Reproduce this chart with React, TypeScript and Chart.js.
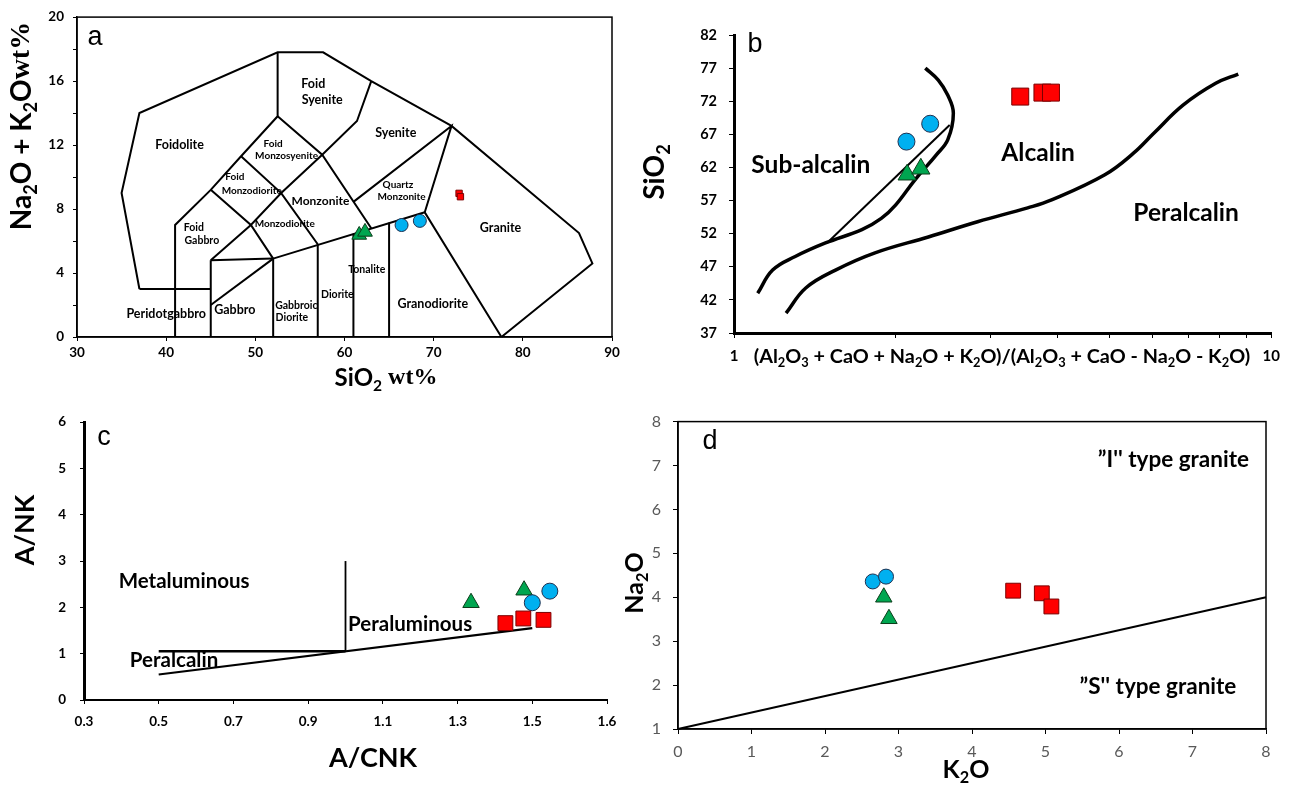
import React, { useEffect, useRef } from 'react';
import { Chart, registerables } from 'chart.js';
Chart.register(...registerables);

const FONT = 'Lato, "Open Sans", sans-serif';
const SERIF = '"Liberation Serif", "DejaVu Serif", serif';

// ---------- Panel a : TAS (plutonic) ----------
const tasXTicks = [30, 40, 50, 60, 70, 80, 90];
const tasYTicks = [0, 2, 4, 6, 8, 10, 12, 14, 16, 18, 20];
const tasOutline = [[37, 3], [35, 9], [37, 14], [52.5, 17.8], [57.6, 17.8], [63, 16], [72, 13.2], [86.3, 6.5], [87.8, 4.6], [77.6, 0]];
const tasFoidoliteBase = [[37, 3], [45, 3]];
const tasLineA = [[41, 0], [41, 7], [45, 9.2], [48.4, 11.3], [52.5, 13.8], [52.5, 17.8]];
const tasLineB = [[45, 4.8], [49.5, 7.0], [52.9, 9.0], [57.5, 11.4], [61.4, 13.5], [63, 16]];
const tasLineC = [[45, 9.2], [49.5, 7.0], [52, 4.9]];
const tasLineD = [[48.4, 11.3], [52.9, 9.0], [57, 5.8]];
const tasLineE = [[52.5, 13.8], [57.5, 11.4], [63, 6.8]];
const tasLineF = [[61, 8.45], [72, 13.2], [69, 7.8], [77.6, 0]];
const tasLineG = [[45, 4.8], [52, 4.9], [69, 7.8]];
const tasLineH = [[45, 2], [52, 4.9]];
const tasV45 = [[45, 0], [45, 4.8]];
const tasV52 = [[52, 0], [52, 4.9]];
const tasV57 = [[57, 0], [57, 5.8]];
const tasV61 = [[61, 0], [61, 6.45]];
const tasV65 = [[65, 0], [65, 7.15]];
const tasRed = [[72.85, 8.98], [73.0, 8.77]];
const tasBlue = [[66.4, 7.0], [68.45, 7.26]];
const tasGreen = [[61.65, 6.38], [62.3, 6.57]];
const tasLabels = [
  { text: 'Foid', x: 56.5, y: 15.8, size: 12.5 },
  { text: 'Syenite', x: 57.5, y: 14.8, size: 12.5 },
  { text: 'Foidolite', x: 41.5, y: 12.0, size: 12.5 },
  { text: 'Syenite', x: 65.75, y: 12.76, size: 12.5 },
  { text: 'Foid', x: 52.0, y: 12.1, size: 10 },
  { text: 'Monzosyenite', x: 53.5, y: 11.3, size: 10 },
  { text: 'Foid', x: 47.7, y: 10.0, size: 10 },
  { text: 'Monzodiorite', x: 49.6, y: 9.15, size: 10 },
  { text: 'Monzonite', x: 57.3, y: 8.5, size: 12 },
  { text: 'Quartz', x: 66.0, y: 9.5, size: 10 },
  { text: 'Monzonite', x: 66.4, y: 8.77, size: 10 },
  { text: 'Monzodiorite', x: 53.3, y: 7.05, size: 10 },
  { text: 'Foid', x: 43.1, y: 6.86, size: 10.5 },
  { text: 'Gabbro', x: 44.0, y: 6.03, size: 10.5 },
  { text: 'Granite', x: 77.5, y: 6.8, size: 12.5 },
  { text: 'Tonalite', x: 62.5, y: 4.24, size: 10.5 },
  { text: 'Diorite', x: 59.2, y: 2.68, size: 10.5 },
  { text: 'Gabbroic', x: 54.6, y: 1.97, size: 10.5 },
  { text: 'Diorite', x: 54.1, y: 1.22, size: 10.5 },
  { text: 'Granodiorite', x: 69.9, y: 2.08, size: 12.5 },
  { text: 'Peridotgabbro', x: 40.0, y: 1.43, size: 12.5 },
  { text: 'Gabbro', x: 47.7, y: 1.7, size: 12.5 },
];

// ---------- Panel b : SiO2 vs alkalinity ratio ----------
const bXTicks = [1, 2, 3, 4, 5, 6, 7, 8, 9, 10];
const bYTicks = [37, 42, 47, 52, 57, 62, 67, 72, 77, 82];
const bCurveSub = [[1.107, 43.0], [1.18, 46.5], [1.3, 48.55], [1.48, 50.6], [1.73, 52.6], [1.88, 54.3], [2.0, 56.35], [2.17, 60.1], [2.38, 63.9], [2.5, 66.2], [2.56, 70.2], [2.5, 72.9], [2.4, 75.2], [2.27, 77.0]];
const bSplit = [[1.49, 50.6], [2.52, 68.4]];
const bCurvePer = [[1.25, 40.0], [1.36, 43.8], [1.545, 46.5], [1.83, 49.1], [2.3, 51.5], [2.84, 53.8], [3.52, 55.9], [3.9, 57.1], [4.9, 60.9], [5.54, 64.15], [6.05, 67.2], [6.85, 71.4], [7.88, 74.7], [8.68, 76.1]];
const bRed = [[3.41, 72.7], [3.75, 73.3], [3.89, 73.3]];
const bBlue = [[2.094, 65.9], [2.318, 68.6]];
const bGreen = [[2.1, 60.9], [2.227, 61.8]];
const bLabels = [
  { text: 'Sub-alcalin', x: 1.39, y: 62.3, size: 24.5 },
  { text: 'Alcalin', x: 3.68, y: 64.15, size: 24.5 },
  { text: 'Peralcalin', x: 6.94, y: 55.1, size: 24.5 },
];

// ---------- Panel c : A/NK vs A/CNK ----------
const cXTicks = [0.3, 0.5, 0.7, 0.9, 1.1, 1.3, 1.5, 1.7];
const cXLabels = ['0.3', '0.5', '0.7', '0.9', '1.1', '1.3', '1.5', '1.6'];
const cYTicks = [0, 1, 2, 3, 4, 5, 6];
const cHoriz = [[0.5, 1.05], [1.0, 1.05]];
const cVert = [[1.0, 1.05], [1.0, 3.0]];
const cDiag = [[0.5, 0.55], [1.5, 1.55]];
const cRed = [[1.428, 1.66], [1.476, 1.76], [1.53, 1.73]];
const cBlue = [[1.5, 2.1], [1.547, 2.35]];
const cGreen = [[1.336, 2.1], [1.478, 2.37]];
const cLabels = [
  { text: 'Metaluminous', x: 0.568, y: 2.57, size: 20.5 },
  { text: 'Peraluminous', x: 1.173, y: 1.63, size: 20.5 },
  { text: 'Peralcalin', x: 0.541, y: 0.865, size: 20.5 },
];

// ---------- Panel d : Na2O vs K2O ----------
const dXTicks = [0, 1, 2, 3, 4, 5, 6, 7, 8];
const dYTicks = [1, 2, 3, 4, 5, 6, 7, 8];
const dLine = [[0, 1], [8, 4]];
const dRed = [[4.56, 4.15], [4.95, 4.09], [5.08, 3.79]];
const dBlue = [[2.65, 4.36], [2.83, 4.47]];
const dGreen = [[2.8, 4.0], [2.87, 3.51]];
const dLabels = [
  { text: '\u201dI\'\' type granite', x: 6.74, y: 7.14, size: 22.5 },
  { text: '\u201dS\'\' type granite', x: 6.53, y: 1.97, size: 22.5 },
];

// ---------- helpers ----------
type Seg = { t: string; sub?: boolean; family?: string };
const parseRich = (str: string): Seg[] => {
  const segs: Seg[] = [];
  const re = /_(\d)/g;
  let last = 0;
  let m: RegExpExecArray | null;
  while ((m = re.exec(str))) {
    if (m.index > last) segs.push({ t: str.slice(last, m.index) });
    segs.push({ t: m[1], sub: true });
    last = re.lastIndex;
  }
  if (last < str.length) segs.push({ t: str.slice(last) });
  return segs;
};

function drawRich(ctx: CanvasRenderingContext2D, x: number, y: number, segs: Seg[], o: any) {
  const size = o.size || 12;
  const weight = o.weight || 'bold';
  const family = o.family || FONT;
  ctx.save();
  ctx.translate(x, y);
  if (o.rot) ctx.rotate(o.rot);
  ctx.fillStyle = o.color || '#000';
  ctx.textBaseline = 'middle';
  ctx.textAlign = 'left';
  const parts = segs.map((s) => {
    const fs = s.sub ? size * 0.65 : size;
    const font = `${weight} ${fs}px ${s.family || family}`;
    ctx.font = font;
    return { s, font, w: ctx.measureText(s.t).width, dy: s.sub ? size * 0.32 : 0 };
  });
  const total = parts.reduce((a, p) => a + p.w, 0);
  let cx = o.align === 'left' ? 0 : o.align === 'right' ? -total : -total / 2;
  for (const p of parts) {
    ctx.font = p.font;
    ctx.fillText(p.s.t, cx, p.dy);
    cx += p.w;
  }
  ctx.restore();
}

const makePlugin = (items: any[], frame?: { color: string; width: number }) => ({
  id: 'richText',
  beforeDatasetsDraw(chart: any) {
    if (!frame) return;
    const ca = chart.chartArea;
    const ctx = chart.ctx;
    ctx.save();
    ctx.strokeStyle = frame.color;
    ctx.lineWidth = frame.width;
    ctx.strokeRect(ca.left, ca.top, ca.right - ca.left, ca.bottom - ca.top);
    ctx.restore();
  },
  afterDraw(chart: any) {
    const ctx = chart.ctx;
    for (const it of items) {
      const x = it.px ? it.x : chart.scales.x.getPixelForValue(it.x);
      const y = it.px ? it.y : chart.scales.y.getPixelForValue(it.y);
      drawRich(ctx, x, y, typeof it.text === 'string' ? parseRich(it.text) : it.text, it);
    }
  },
});

const pts = (a: number[][]) => a.map(([x, y]) => ({ x, y }));
const lineDs = (a: number[][], width = 2, tension = 0) => ({
  data: pts(a), showLine: true, pointRadius: 0, borderColor: '#000', borderWidth: width,
  backgroundColor: '#000', tension, fill: false, order: 10, clip: false,
});
const markDs = (a: number[][], kind: 'red' | 'blue' | 'green', r: number) => {
  const st: any = {
    red: { pointStyle: 'rect', backgroundColor: '#ff0000', borderColor: '#7a0000' },
    blue: { pointStyle: 'circle', backgroundColor: '#00b0f0', borderColor: '#1f3050' },
    green: { pointStyle: 'triangle', backgroundColor: '#00a650', borderColor: '#0b3d1a' },
  }[kind];
  return { data: pts(a), showLine: false, pointRadius: r, pointHoverRadius: r, borderWidth: 1, order: 0, clip: false, ...st };
};

const tickFont = (size: number, weight: any = 'bold') => ({ family: FONT, size, weight });

function baseOptions(padding: any): any {
  return {
    responsive: false,
    animation: false,
    events: [],
    layout: { padding },
    plugins: { legend: { display: false }, tooltip: { enabled: false } },
  };
}

// ---------- configs ----------
function configA(): any {
  const opts = baseOptions({ left: 0, right: 28, top: 17, bottom: 0 });
  opts.scales = {
    x: {
      type: 'linear', min: 30, max: 90,
      afterBuildTicks: (s: any) => { s.ticks = tasXTicks.map((v) => ({ value: v })); },
      ticks: { font: tickFont(13.5), color: '#000', padding: 4, autoSkip: false, maxRotation: 0 },
      grid: { drawOnChartArea: false, tickLength: 4, color: '#000' },
      border: { color: '#000', width: 1.5 },
      afterFit: (s: any) => { s.height = 63; },
    },
    y: {
      type: 'linear', min: 0, max: 20,
      afterBuildTicks: (s: any) => { s.ticks = tasYTicks.map((v) => ({ value: v })); },
      ticks: { font: tickFont(13.5), color: '#000', padding: 9, autoSkip: false, callback: (v: number) => (v % 4 === 0 ? String(v) : '') },
      grid: { drawOnChartArea: false, tickLength: 4, color: '#000' },
      border: { color: '#000', width: 1.5 },
      afterFit: (s: any) => { s.width = 77; },
    },
  };
  const lines = [tasOutline, tasFoidoliteBase, tasLineA, tasLineB, tasLineC, tasLineD, tasLineE, tasLineF, tasLineG, tasLineH, tasV45, tasV52, tasV57, tasV61, tasV65];
  const items = [
    ...tasLabels,
    { text: 'a', x: 95, y: 38, px: true, size: 27, weight: 'normal', family: '"Liberation Sans", Arial, sans-serif' },
    { text: [{ t: 'SiO' }, { t: '2', sub: true }, { t: ' wt%', family: SERIF }], x: 386, y: 378, px: true, size: 24 },
    { text: [{ t: 'Na' }, { t: '2', sub: true }, { t: 'O + K' }, { t: '2', sub: true }, { t: 'O' }, { t: 'wt%', family: SERIF }], x: 22, y: 126, px: true, size: 28, rot: -Math.PI / 2 },
  ];
  return {
    type: 'scatter',
    data: { datasets: [markDs(tasRed, 'red', 4.5), markDs(tasBlue, 'blue', 6.5), markDs(tasGreen, 'green', 8.5), ...lines.map((l) => lineDs(l, 2))] },
    options: opts,
    plugins: [makePlugin(items, { color: '#000', width: 1.5 })],
  };
}

function configB(): any {
  const opts = baseOptions({ left: 0, right: 14, top: 35, bottom: 0 });
  opts.scales = {
    x: {
      type: 'logarithmic', min: 1, max: 10,
      afterBuildTicks: (s: any) => { s.ticks = bXTicks.map((v) => ({ value: v })); },
      ticks: { font: tickFont(15), color: '#000', padding: 9, autoSkip: false, maxRotation: 0, callback: (v: number) => (v === 1 ? '1' : v === 10 ? '10' : '') },
      grid: { drawOnChartArea: false, tickLength: 5, color: '#000' },
      border: { color: '#000', width: 3 },
      afterFit: (s: any) => { s.height = 67; },
    },
    y: {
      type: 'linear', min: 37, max: 82,
      afterBuildTicks: (s: any) => { s.ticks = bYTicks.map((v) => ({ value: v })); },
      ticks: { font: tickFont(14.5), color: '#000', padding: 12, autoSkip: false },
      grid: { drawOnChartArea: false, tickLength: 5, color: '#000' },
      border: { color: '#000', width: 3 },
      afterFit: (s: any) => { s.width = 94; },
    },
  };
  const items = [
    ...bLabels,
    { text: 'b', x: 115, y: 45, px: true, size: 27, weight: 'normal', family: '"Liberation Sans", Arial, sans-serif' },
    { text: 'SiO_2', x: 15, y: 172, px: true, size: 28, rot: -Math.PI / 2 },
    { text: '(Al_2O_3 + CaO + Na_2O + K_2O)/(Al_2O_3 + CaO - Na_2O - K_2O)', x: 362, y: 357, px: true, size: 19.8 },
  ];
  return {
    type: 'scatter',
    data: {
      datasets: [
        markDs(bRed, 'red', 12), markDs(bBlue, 'blue', 8.5), markDs(bGreen, 'green', 10.5),
        lineDs(bCurveSub, 3.5, 0.4), lineDs(bSplit, 2), lineDs(bCurvePer, 3.5, 0.4),
      ],
    },
    options: opts,
    plugins: [makePlugin(items)],
  };
}

function configC(): any {
  const opts = baseOptions({ left: 0, right: 33, top: 11, bottom: 0 });
  opts.scales = {
    x: {
      type: 'linear', min: 0.3, max: 1.7,
      afterBuildTicks: (s: any) => { s.ticks = cXTicks.map((v) => ({ value: v })); },
      ticks: { font: tickFont(13.5), color: '#000', padding: 10, autoSkip: false, maxRotation: 0, callback: (_v: number, i: number) => cXLabels[i] },
      grid: { drawOnChartArea: false, tickLength: 4, color: '#000' },
      border: { color: '#000', width: 2 },
      afterFit: (s: any) => { s.height = 86; },
    },
    y: {
      type: 'linear', min: 0, max: 6,
      afterBuildTicks: (s: any) => { s.ticks = cYTicks.map((v) => ({ value: v })); },
      ticks: { font: tickFont(13.5), color: '#000', padding: 14, autoSkip: false },
      grid: { drawOnChartArea: false, tickLength: 4, color: '#000' },
      border: { color: '#000', width: 3 },
      afterFit: (s: any) => { s.width = 84; },
    },
  };
  const items = [
    ...cLabels,
    { text: 'c', x: 104, y: 38, px: true, size: 27, weight: 'normal', family: '"Liberation Sans", Arial, sans-serif' },
    { text: 'A/NK', x: 25, y: 130, px: true, size: 27, rot: -Math.PI / 2 },
    { text: 'A/CNK', x: 373, y: 358, px: true, size: 27 },
  ];
  return {
    type: 'scatter',
    data: {
      datasets: [
        markDs(cRed, 'red', 10.5), markDs(cBlue, 'blue', 8), markDs(cGreen, 'green', 9.5),
        lineDs(cHoriz, 2.5), lineDs(cVert, 1.8), lineDs(cDiag, 2.2),
      ],
    },
    options: opts,
    plugins: [makePlugin(items)],
  };
}

function configD(): any {
  const opts = baseOptions({ left: 0, right: 23, top: 13, bottom: 0 });
  opts.scales = {
    x: {
      type: 'linear', min: 0, max: 8,
      afterBuildTicks: (s: any) => { s.ticks = dXTicks.map((v) => ({ value: v })); },
      ticks: { font: tickFont(16, 'normal'), color: '#595959', padding: 8, autoSkip: false, maxRotation: 0 },
      grid: { drawOnChartArea: false, tickLength: 5, color: '#000' },
      border: { color: '#000', width: 1.5 },
      afterFit: (s: any) => { s.height = 57; },
    },
    y: {
      type: 'linear', min: 1, max: 8,
      afterBuildTicks: (s: any) => { s.ticks = dYTicks.map((v) => ({ value: v })); },
      ticks: { font: tickFont(16, 'normal'), color: '#595959', padding: 12, autoSkip: false },
      grid: { drawOnChartArea: false, tickLength: 5, color: '#000' },
      border: { color: '#000', width: 1.5 },
      afterFit: (s: any) => { s.width = 63; },
    },
  };
  const items = [
    ...dLabels,
    { text: 'd', x: 95, y: 42, px: true, size: 27, weight: 'normal', family: '"Liberation Sans", Arial, sans-serif' },
    { text: 'Na_2O', x: 20, y: 183, px: true, size: 25, rot: -Math.PI / 2 },
    { text: 'K_2O', x: 351, y: 370, px: true, size: 25 },
  ];
  return {
    type: 'scatter',
    data: {
      datasets: [
        markDs(dRed, 'red', 10.5), markDs(dBlue, 'blue', 7.5), markDs(dGreen, 'green', 9.5),
        lineDs(dLine, 2),
      ],
    },
    options: opts,
    plugins: [makePlugin(items, { color: '#000', width: 1.5 })],
  };
}

function Panel({ left, top, width, height, make }: any) {
  const ref = useRef<HTMLCanvasElement | null>(null);
  useEffect(() => {
    const chart = new Chart(ref.current as HTMLCanvasElement, make());
    return () => chart.destroy();
  }, []);
  return (
    <canvas
      ref={ref}
      width={width}
      height={height}
      style={{ position: 'absolute', left, top, width, height }}
    />
  );
}

export default function App() {
  return (
    <div style={{ position: 'fixed', left: 0, top: 0, width: 1289, height: 786, background: '#fff', overflow: 'hidden' }}>
      <Panel left={0} top={0} width={640} height={400} make={configA} />
      <Panel left={640} top={0} width={649} height={400} make={configB} />
      <Panel left={0} top={400} width={640} height={386} make={configC} />
      <Panel left={615} top={400} width={674} height={386} make={configD} />
    </div>
  );
}
